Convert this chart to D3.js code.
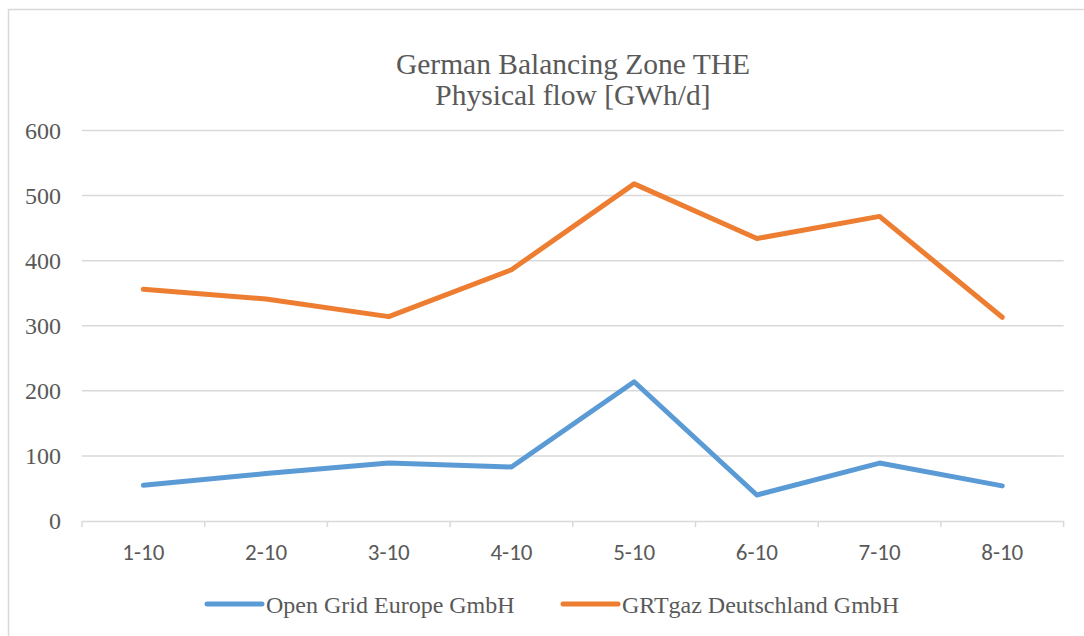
<!DOCTYPE html>
<html>
<head>
<meta charset="utf-8">
<script src="https://cdn.jsdelivr.net/npm/d3@7"></script>
<style>
  body { margin: 0; background: #fff; }
  svg { display: block; }
</style>
</head>
<body>
<svg id="chart"></svg>
<script>
const categories = ["1-10", "2-10", "3-10", "4-10", "5-10", "6-10", "7-10", "8-10"];
const openGrid = [55, 73, 89, 83, 214, 40, 89, 54];
const grtgaz = [356, 341, 314, 386, 518, 434, 468, 313];
const yTicks = [0, 100, 200, 300, 400, 500, 600];
const titleLines = ["German Balancing Zone THE", "Physical flow [GWh/d]"];
const seriesNames = ["Open Grid Europe GmbH", "GRTgaz Deutschland GmbH"];
const colors = ["#5B9BD5", "#ED7D31"];

const SERIF = "'Liberation Serif'";
const SANS = "'Carlito'";
const textColor = '#595959';

const width = 1084, height = 636;
const margin = { left: 82, right: 1084 - 1063.6, top: 130.5, bottom: 636 - 521 };

const svg = d3.select('#chart').attr('width', width).attr('height', height);

// outer chart frame (runs off the right and bottom edge)
svg.append('rect')
  .attr('x', 8.5).attr('y', 9.5)
  .attr('width', 1100).attr('height', 700)
  .attr('fill', '#fff')
  .attr('stroke', '#d9d9d9').attr('stroke-width', 1.5);

const x = d3.scaleBand().domain(categories).range([margin.left, width - margin.right]);
const y = d3.scaleLinear().domain([0, 600]).range([height - margin.bottom, margin.top]);

// gridlines
svg.append('g')
  .selectAll('line')
  .data(yTicks.filter(d => d > 0))
  .join('line')
  .attr('x1', margin.left).attr('x2', width - margin.right)
  .attr('y1', d => y(d)).attr('y2', d => y(d))
  .attr('stroke', '#d9d9d9').attr('stroke-width', 1.5);

// y labels
svg.append('g')
  .selectAll('text')
  .data(yTicks)
  .join('text')
  .attr('x', 61).attr('y', d => y(d) + 8)
  .attr('text-anchor', 'end')
  .style('font-family', SERIF)
  .style('font-size', '24px')
  .attr('fill', textColor)
  .text(d => d);

// x axis
const xAxis = svg.append('g')
  .attr('transform', `translate(0,${y(0)})`)
  .call(d3.axisBottom(x).tickSize(0).tickPadding(23));
xAxis.select('.domain').attr('stroke', '#d9d9d9').attr('stroke-width', 1.5);
xAxis.selectAll('text')
  .style('font-family', SANS)
  .style('font-size', '23px')
  .attr('fill', textColor);
xAxis.append('g')
  .selectAll('line')
  .data(d3.range(categories.length + 1))
  .join('line')
  .attr('x1', i => margin.left + i * x.step()).attr('x2', i => margin.left + i * x.step())
  .attr('y1', 0).attr('y2', 6)
  .attr('stroke', '#d9d9d9').attr('stroke-width', 1.5);

// lines
const line = d3.line()
  .x((d, i) => x(categories[i]) + x.bandwidth() / 2)
  .y(d => y(d));

[openGrid, grtgaz].forEach((values, k) => {
  svg.append('path')
    .datum(values)
    .attr('d', line)
    .attr('fill', 'none')
    .attr('stroke', colors[k])
    .attr('stroke-width', 5)
    .attr('stroke-linecap', 'round')
    .attr('stroke-linejoin', 'round');
});

// title
svg.append('g')
  .selectAll('text')
  .data(titleLines)
  .join('text')
  .attr('x', 573).attr('y', (d, i) => 74 + i * 31)
  .attr('text-anchor', 'middle')
  .style('font-family', SERIF)
  .style('font-size', '29.5px')
  .attr('fill', textColor)
  .text(d => d);

// legend
const legendX = [207, 563];
const legend = svg.append('g')
  .selectAll('g')
  .data(seriesNames)
  .join('g')
  .attr('transform', (d, i) => `translate(${legendX[i]},604)`);
legend.append('line')
  .attr('x1', 0).attr('x2', 55)
  .attr('stroke', (d, i) => colors[i])
  .attr('stroke-width', 5)
  .attr('stroke-linecap', 'round');
legend.append('text')
  .attr('x', 59).attr('y', 9)
  .style('font-family', SERIF)
  .style('font-size', '24px')
  .attr('fill', textColor)
  .text(d => d);
</script>
</body>
</html>
